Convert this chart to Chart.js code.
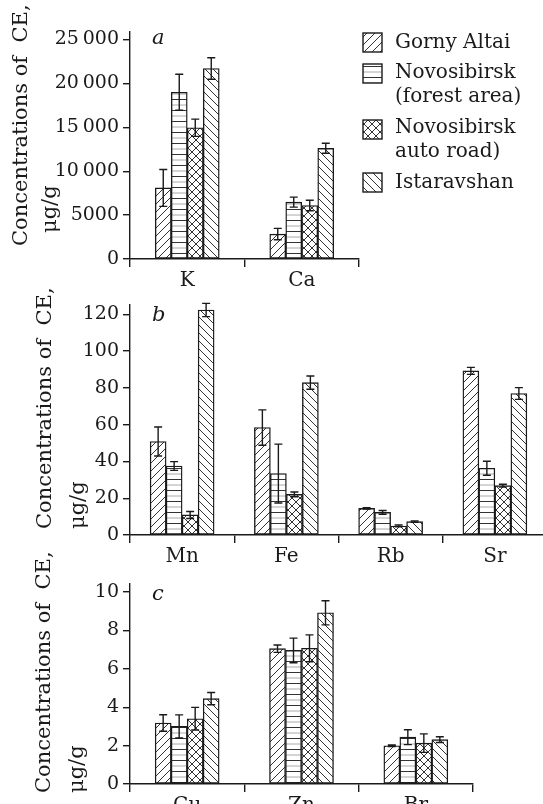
<!DOCTYPE html>
<html><head><meta charset="utf-8">
<script src="https://cdn.jsdelivr.net/npm/chart.js@4.4.0/dist/chart.umd.min.js"></script>
<style>
html,body{margin:0;padding:0;background:#fff;overflow:hidden;width:543px;height:804px;position:relative;}
canvas{position:absolute;left:0;}
</style></head><body>
<canvas id="ca" width="550" height="300" style="top:0px"></canvas>
<canvas id="cb" width="550" height="300" style="top:270px"></canvas>
<canvas id="cc" width="550" height="264" style="top:540px"></canvas>
<script>
// ---------- data ----------
const seriesNames = ['Gorny Altai', 'Novosibirsk (forest area)', 'Novosibirsk auto road)', 'Istaravshan'];
const legendLines = [['Gorny Altai'], ['Novosibirsk', '(forest area)'], ['Novosibirsk', 'auto road)'], ['Istaravshan']];
const yTitleLines = ['Concentrations of  CE,', 'μg/g'];

// panel a
const categoriesA = ['K', 'Ca'];
const gornyA = [8100, 2840];
const forestA = [19000, 6480];
const roadA = [14950, 6090];
const istaravshanA = [21700, 12610];
const gornyErrA = [2100, 650];
const forestErrA = [2050, 570];
const roadErrA = [980, 600];
const istaravshanErrA = [1230, 570];
const yTicksA = [0, 5000, 10000, 15000, 20000, 25000];
const yTickLabelsA = ['0', '5000', '10\u2009000', '15\u2009000', '20\u2009000', '25\u2009000'];
const yMaxA = 25860;

// panel b
const categoriesB = ['Mn', 'Fe', 'Rb', 'Sr'];
const gornyB = [50.8, 58.4, 14.5, 89.2];
const forestB = [37.5, 33.4, 12.3, 36.3];
const roadB = [10.9, 22.1, 4.9, 26.8];
const istaravshanB = [122.3, 82.8, 7.25, 76.9];
const gornyErrB = [7.9, 9.6, 0.4, 1.9];
const forestErrB = [2.4, 16, 1.0, 3.8];
const roadErrB = [1.9, 1.3, 0.5, 0.8];
const istaravshanErrB = [3.6, 3.6, 0.4, 3.2];
const yTicksB = [0, 20, 40, 60, 80, 100, 120];
const yTickLabelsB = ['0', '20', '40', '60', '80', '100', '120'];
const yMaxB = 125;

// panel c
const categoriesC = ['Cu', 'Zn', 'Br'];
const gornyC = [3.18, 7.05, 1.99];
const forestC = [3.0, 6.96, 2.44];
const roadC = [3.4, 7.07, 2.13];
const istaravshanC = [4.45, 8.92, 2.31];
const gornyErrC = [0.43, 0.19, 0.04];
const forestErrC = [0.6, 0.64, 0.39];
const roadErrC = [0.59, 0.7, 0.48];
const istaravshanErrC = [0.32, 0.63, 0.15];
const yTicksC = [0, 2, 4, 6, 8, 10];
const yTickLabelsC = ['0', '2', '4', '6', '8', '10'];
const yMaxC = 10.42;

// ---------- styling ----------
const INK = '#1a1a1a';
const FONT = "'DejaVu Serif', 'Liberation Serif', serif";

function makePattern(kind) {
  const c = document.createElement('canvas');
  const s = kind === 'h' ? 11 : 8;
  c.width = s; c.height = s;
  const g = c.getContext('2d');
  g.fillStyle = '#fff'; g.fillRect(0, 0, s, s);
  g.strokeStyle = '#333'; g.lineWidth = 1;
  function line(x1, y1, x2, y2) { g.beginPath(); g.moveTo(x1, y1); g.lineTo(x2, y2); g.stroke(); }
  if (kind === 'f' || kind === 'x') { line(-1, s + 1, s + 1, -1); line(-1, 1, 1, -1); line(s - 1, s + 1, s + 1, s - 1); }
  if (kind === 'b' || kind === 'x') { line(-1, -1, s + 1, s + 1); line(s - 1, -1, s + 1, 1); line(-1, s - 1, 1, s + 1); }
  if (kind === 'h') {
    g.strokeStyle = '#333'; line(0, 0.5, s, 0.5);
    g.strokeStyle = '#aaa'; line(0, 6, s, 6);
  }
  return g.createPattern(c, 'repeat');
}
const patterns = [makePattern('f'), makePattern('h'), makePattern('x'), makePattern('b')];

const errorBarPlugin = {
  id: 'errorBars',
  afterDatasetsDraw(chart) {
    const ctx = chart.ctx, ys = chart.scales.y;
    const errs = chart.options.plugins.errorBars.errors;
    ctx.save();
    ctx.strokeStyle = INK; ctx.lineWidth = 1.4;
    chart.data.datasets.forEach((ds, i) => {
      const meta = chart.getDatasetMeta(i);
      meta.data.forEach((bar, j) => {
        const v = ds.data[j], e = errs[i][j];
        const x = bar.x;
        const yt = ys.getPixelForValue(v + e), yb = ys.getPixelForValue(Math.max(0, v - e));
        ctx.beginPath();
        ctx.moveTo(x, yt); ctx.lineTo(x, yb);
        ctx.moveTo(x - 4, yt); ctx.lineTo(x + 4, yt);
        ctx.moveTo(x - 4, yb); ctx.lineTo(x + 4, yb);
        ctx.stroke();
      });
    });
    ctx.restore();
  }
};

const decorPlugin = {
  id: 'decor',
  afterDraw(chart) {
    const o = chart.options.plugins.decor;
    const ctx = chart.ctx;
    ctx.save();
    ctx.fillStyle = INK;
    // y title
    ctx.font = '21px ' + FONT;
    ctx.textAlign = 'left'; ctx.textBaseline = 'middle';
    o.titles.forEach(t => {
      ctx.save();
      ctx.translate(t.x, t.y);
      ctx.rotate(-Math.PI / 2);
      ctx.fillText(t.text, 0, 0);
      ctx.restore();
    });
    // panel letter
    ctx.font = 'italic 21px ' + FONT;
    ctx.fillText(o.letter.text, o.letter.x, o.letter.y);
    // legend
    if (o.legend) {
      const L = o.legend;
      ctx.font = '20px ' + FONT;
      L.rows.forEach((r, i) => {
        ctx.fillStyle = patterns[i];
        ctx.fillRect(L.x, r.box, 19, 19);
        ctx.strokeStyle = INK; ctx.lineWidth = 1.4;
        ctx.strokeRect(L.x, r.box, 19, 19);
        ctx.fillStyle = INK;
        legendLines[i].forEach((txt, k) => ctx.fillText(txt, L.tx, r.text[k]));
      });
    }
    ctx.restore();
  }
};

function makeChart(id, cats, vals, errs, ticks, tickLabels, yMax, lay, decor) {
  const datasets = vals.map((d, i) => ({
    label: seriesNames[i],
    data: d,
    backgroundColor: patterns[i],
    borderColor: INK,
    borderWidth: 1.4,
    borderSkipped: false,
    barThickness: 16
  }));
  return new Chart(document.getElementById(id), {
    type: 'bar',
    data: { labels: cats, datasets },
    plugins: [errorBarPlugin, decorPlugin],
    options: {
      responsive: false,
      animation: false,
      devicePixelRatio: 1,
      layout: { padding: { top: lay.top, right: lay.right, bottom: 0, left: 0 } },
      plugins: {
        legend: { display: false },
        tooltip: { enabled: false },
        errorBars: { errors: errs },
        decor: decor
      },
      scales: {
        x: {
          offset: true,
          afterFit: s => { s.height = lay.xh; },
          ticks: { font: { family: FONT, size: 20 }, color: INK, padding: 2 },
          grid: { offset: true, drawOnChartArea: false, tickLength: 8, color: INK, lineWidth: 1.4 },
          border: { display: true, color: INK, width: 1.4 }
        },
        y: {
          min: 0, max: yMax,
          afterBuildTicks: s => { s.ticks = ticks.map(v => ({ value: v })); },
          afterFit: s => { s.width = 130; },
          ticks: { font: { family: FONT, size: 19 }, color: INK, padding: 4,
                   callback: (v, i) => tickLabels[i] },
          grid: { drawOnChartArea: false, tickLength: 7, color: INK, lineWidth: 1.4 },
          border: { display: true, color: INK, width: 1.4 }
        }
      }
    }
  });
}

makeChart('ca', categoriesA, [gornyA, forestA, roadA, istaravshanA],
  [gornyErrA, forestErrA, roadErrA, istaravshanErrA], yTicksA, yTickLabelsA, yMaxA,
  { top: 32, right: 191, xh: 41 },
  { titles: [{ text: yTitleLines[0], x: 22, y: 246 }, { text: yTitleLines[1], x: 51, y: 233 }],
    letter: { text: 'a', x: 152, y: 39 },
    legend: { x: 363, tx: 395, rows: [
      { box: 33, text: [43] }, { box: 64, text: [73, 97] }, { box: 120, text: [128, 152] }, { box: 173, text: [183] }] } });

makeChart('cb', categoriesB, [gornyB, forestB, roadB, istaravshanB],
  [gornyErrB, forestErrB, roadErrB, istaravshanErrB], yTicksB, yTickLabelsB, yMaxB,
  { top: 35, right: 3, xh: 35 },
  { titles: [{ text: yTitleLines[0], x: 46, y: 259 }, { text: yTitleLines[1], x: 79, y: 259 }],
    letter: { text: 'b', x: 152, y: 46 } });

makeChart('cc', categoriesC, [gornyC, forestC, roadC, istaravshanC],
  [gornyErrC, forestErrC, roadErrC, istaravshanErrC], yTicksC, yTickLabelsC, yMaxC,
  { top: 44, right: 77, xh: 20 },
  { titles: [{ text: yTitleLines[0], x: 45, y: 253 }, { text: yTitleLines[1], x: 78, y: 253 }],
    letter: { text: 'c', x: 152, y: 55 } });
</script>
</body></html>
